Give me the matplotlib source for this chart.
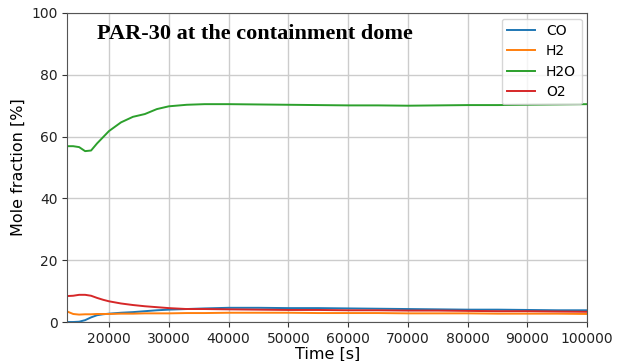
import matplotlib
matplotlib.use('Agg')
import matplotlib.pyplot as plt
import numpy as np

# time points [s]
time = [13000, 14000, 15000, 16000, 17000, 18000, 19000, 20000, 22000, 24000,
        26000, 28000, 30000, 33000, 36000, 40000, 45000, 50000, 55000, 60000,
        65000, 70000, 75000, 80000, 85000, 90000, 95000, 100000]

h2o = [56.9, 56.9, 56.6, 55.3, 55.5, 57.8, 59.8, 61.8, 64.6, 66.4,
       67.3, 68.9, 69.8, 70.3, 70.5, 70.5, 70.4, 70.3, 70.2, 70.1,
       70.1, 70.0, 70.1, 70.2, 70.2, 70.3, 70.4, 70.5]

o2 = [8.4, 8.5, 8.8, 8.8, 8.5, 7.8, 7.2, 6.7, 6.0, 5.5,
      5.1, 4.8, 4.5, 4.2, 4.2, 4.1, 4.0, 3.9, 3.9, 3.8,
      3.8, 3.7, 3.7, 3.6, 3.5, 3.5, 3.4, 3.3]

co = [0.0, 0.0, 0.1, 0.6, 1.5, 2.2, 2.5, 2.7, 3.0, 3.2,
      3.5, 3.8, 4.0, 4.2, 4.4, 4.6, 4.6, 4.5, 4.5, 4.4,
      4.3, 4.2, 4.1, 4.0, 4.0, 3.9, 3.8, 3.8]

h2 = [3.4, 2.6, 2.4, 2.5, 2.5, 2.6, 2.6, 2.6, 2.7, 2.7,
      2.8, 2.8, 2.8, 2.9, 2.9, 3.0, 3.0, 3.0, 2.9, 2.9,
      2.9, 2.8, 2.8, 2.8, 2.7, 2.7, 2.7, 2.6]

fig = plt.figure(figsize=(6.22, 3.61), dpi=100)
ax = fig.add_axes([0.108, 0.108, 0.836, 0.856])

ax.plot(time, co, color='#1f77b4', lw=1.4, label='CO')
ax.plot(time, h2, color='#ff7f0e', lw=1.4, label='H2')
ax.plot(time, h2o, color='#2ca02c', lw=1.4, label='H2O')
ax.plot(time, o2, color='#d62728', lw=1.4, label='O2')

ax.set_xlim(13000, 100000)
ax.set_ylim(0, 100)
ax.set_xticks(np.arange(20000, 100001, 10000))
ax.set_yticks(np.arange(0, 101, 20))
ax.grid(True, color='#cccccc', lw=1)
ax.set_axisbelow(True)
for s in ax.spines.values():
    s.set_color('#555555')
ax.tick_params(labelsize=10, colors='#333333', labelcolor='#222222')

ax.set_xlabel('Time [s]', fontsize=11.5, labelpad=1)
ax.set_ylabel('Mole fraction [%]', fontsize=11.5)

ax.text(0.057, 0.965, 'PAR-30 at the containment dome', transform=ax.transAxes,
        fontfamily='Liberation Serif', fontweight='bold', fontsize=16, va='top')

ax.legend(loc='upper right', fontsize=10, framealpha=0.8, labelspacing=0.45,
          borderaxespad=0.4)

fig.savefig('out.png', dpi=100)
